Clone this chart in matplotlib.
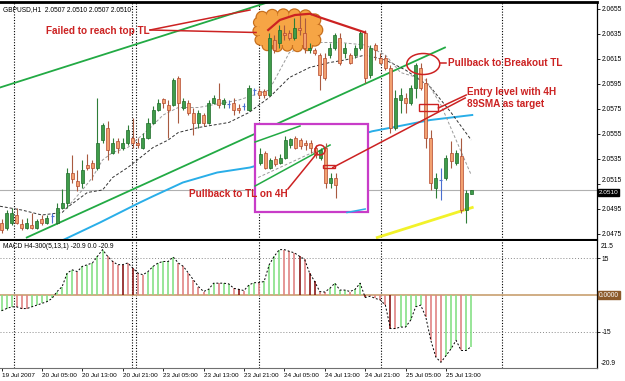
import matplotlib
matplotlib.use("Agg")
import matplotlib.pyplot as plt
from matplotlib.patches import Ellipse, Rectangle
import numpy as np

plt.rcParams['font.family'] = ['Liberation Sans', 'DejaVu Sans']

# ---------------- data ----------------
symbol_header = "GBPUSD,H1  2.0507 2.0510 2.0507 2.0510"
macd_header = "MACD H4-300(5,13,1) -20.9 0.0 -20.9"

opens = [2.0484, 2.0480, 2.0484, 2.0490, 2.0483, 2.0480, 2.0482, 2.0480, 2.0487, 2.0484,
         2.0489, 2.0484, 2.0496, 2.0500, 2.0524, 2.0517, 2.0516, 2.0530, 2.0532, 2.0528,
         2.0550, 2.0560, 2.0540, 2.0549, 2.0544, 2.0548, 2.0552, 2.0548, 2.0544, 2.0552,
         2.0564, 2.0574, 2.0583, 2.0578, 2.0578, 2.0600, 2.0576, 2.0580, 2.0572, 2.0564,
         2.0570, 2.0564, 2.0580, 2.0583, 2.0579, 2.0579, 2.0580, 2.0576, 2.0577, 2.0574,
         2.0590, 2.0589, 2.0589, 2.0586, 2.0630, 2.0628, 2.0636, 2.0636, 2.0632, 2.0640,
         2.0636, 2.0622, 2.0622, 2.0618, 2.0616, 2.0618, 2.0624, 2.0632, 2.0620, 2.0618,
         2.0618, 2.0624, 2.0636, 2.0602, 2.0626, 2.0616, 2.0616, 2.0608, 2.0560, 2.0582,
         2.0584, 2.0580, 2.0592, 2.0608, 2.0596, 2.0552, 2.0512, 2.0518, 2.0520, 2.0540,
         2.0532, 2.0537, 2.0494, 2.0507]
highs = [2.0487, 2.0494, 2.0496, 2.0496, 2.0487, 2.0488, 2.0492, 2.0487, 2.0490, 2.0490,
         2.0492, 2.0500, 2.0511, 2.0528, 2.0538, 2.0526, 2.0534, 2.0539, 2.0534, 2.0584,
         2.0564, 2.0565, 2.0552, 2.0552, 2.0552, 2.0562, 2.0568, 2.0552, 2.0556, 2.0568,
         2.0577, 2.0583, 2.0584, 2.0582, 2.0600, 2.0601, 2.0584, 2.0582, 2.0576, 2.0574,
         2.0572, 2.0582, 2.0586, 2.0596, 2.0584, 2.0582, 2.0584, 2.0579, 2.0580, 2.0594,
         2.0592, 2.0592, 2.0591, 2.0636, 2.0634, 2.0642, 2.0642, 2.0638, 2.0648, 2.0650,
         2.0648, 2.0628, 2.0624, 2.0620, 2.0620, 2.0628, 2.0636, 2.0636, 2.0628, 2.0620,
         2.0626, 2.0638, 2.0638, 2.0626, 2.0628, 2.0620, 2.0618, 2.0610, 2.0590, 2.0592,
         2.0588, 2.0594, 2.0612, 2.0612, 2.0600, 2.0558, 2.0524, 2.0528, 2.0538, 2.0549,
         2.0542, 2.0552, 2.0510, 2.0510]
lows = [2.0476, 2.0478, 2.0482, 2.0483, 2.0478, 2.0479, 2.0479, 2.0479, 2.0482, 2.0483,
        2.0484, 2.0483, 2.0495, 2.0496, 2.0516, 2.0509, 2.0512, 2.0526, 2.0518, 2.0526,
        2.0548, 2.0534, 2.0539, 2.0540, 2.0542, 2.0546, 2.0544, 2.0544, 2.0543, 2.0551,
        2.0563, 2.0573, 2.0576, 2.0552, 2.0577, 2.0564, 2.0574, 2.0570, 2.0554, 2.0560,
        2.0561, 2.0563, 2.0579, 2.0576, 2.0576, 2.0576, 2.0570, 2.0572, 2.0574, 2.0573,
        2.0586, 2.0584, 2.0584, 2.0585, 2.0620, 2.0624, 2.0630, 2.0630, 2.0630, 2.0634,
        2.0620, 2.0620, 2.0618, 2.0590, 2.0598, 2.0616, 2.0622, 2.0610, 2.0616, 2.0611,
        2.0616, 2.0622, 2.0596, 2.0600, 2.0614, 2.0611, 2.0606, 2.0556, 2.0558, 2.0572,
        2.0572, 2.0578, 2.0584, 2.0590, 2.0544, 2.0510, 2.0504, 2.0502, 2.0518, 2.0528,
        2.0530, 2.0492, 2.0484, 2.0507]
closes = [2.0478, 2.0492, 2.0492, 2.0484, 2.0480, 2.0484, 2.0480, 2.0485, 2.0484, 2.0488,
          2.0489, 2.0496, 2.0500, 2.0524, 2.0519, 2.0513, 2.0526, 2.0528, 2.0528, 2.0548,
          2.0562, 2.0542, 2.0548, 2.0544, 2.0548, 2.0558, 2.0548, 2.0546, 2.0552, 2.0564,
          2.0574, 2.0580, 2.0580, 2.0574, 2.0598, 2.0580, 2.0581, 2.0572, 2.0564, 2.0572,
          2.0564, 2.0580, 2.0584, 2.0578, 2.0582, 2.0579, 2.0574, 2.0574, 2.0577, 2.0592,
          2.0590, 2.0586, 2.0586, 2.0632, 2.0622, 2.0638, 2.0634, 2.0632, 2.0640, 2.0638,
          2.0624, 2.0624, 2.0620, 2.0602, 2.0600, 2.0624, 2.0634, 2.0612, 2.0624, 2.0612,
          2.0624, 2.0636, 2.0600, 2.0624, 2.0622, 2.0612, 2.0608, 2.0560, 2.0584, 2.0586,
          2.0580, 2.0592, 2.0610, 2.0592, 2.0552, 2.0516, 2.0520, 2.0518, 2.0536, 2.0533,
          2.0540, 2.0494, 2.0508, 2.0510]

# 4H chart pasted inside the magenta frame
inset_open = [2.0532, 2.0540, 2.0528, 2.0535, 2.0532, 2.0536, 2.0546, 2.0552,
              2.0550, 2.0548, 2.0548, 2.0544, 2.0536, 2.0544, 2.0516, 2.0520]
inset_high = [2.0544, 2.0541, 2.0536, 2.0537, 2.0539, 2.0553, 2.0552, 2.0553,
              2.0552, 2.0550, 2.0550, 2.0546, 2.0544, 2.0548, 2.0524, 2.0524]
inset_low = [2.0530, 2.0527, 2.0527, 2.0529, 2.0531, 2.0535, 2.0544, 2.0543,
             2.0543, 2.0542, 2.0540, 2.0536, 2.0534, 2.0512, 2.0512, 2.0504]
inset_close = [2.0539, 2.0528, 2.0534, 2.0531, 2.0536, 2.0550, 2.0551, 2.0544,
               2.0545, 2.0546, 2.0544, 2.0538, 2.0542, 2.0516, 2.0520, 2.0514]

macd_values = [-6.4, -5.5, -4.8, -4.8, -5.5, -5.5, -4.8, -4.1, -3.4, -2.7,
               -1.4, 1.4, 3.4, 8.9, 10.2, 9.5, 11.6, 12.3, 13.0, 15.7,
               18.4, 15.7, 13.6, 12.3, 12.3, 13.0, 10.9, 8.9, 8.2, 9.5,
               11.6, 13.0, 13.6, 13.6, 15.4, 13.0, 11.6, 8.9, 6.1, 3.4,
               1.4, 2.3, 4.8, 4.8, 4.8, 4.5, 2.7, 2.3, 1.8, 4.1,
               5.0, 5.0, 5.5, 12.3, 15.7, 18.4, 18.4, 17.7, 17.1, 15.7,
               14.5, 8.9, 5.5, 1.4, 1.2, 2.7, 4.8, 2.0, 2.0, 1.4,
               2.3, 4.8, -1.0, -0.5, -1.4, -2.0, -4.1, -13.6, -13.6, -13.0,
               -13.0, -10.2, -4.8, -4.1, -8.9, -18.4, -25.2, -27.3, -24.6, -21.8,
               -18.4, -22.5, -22.5, -20.9]
macd_colors = ("ggg" "rrr" "ggggggggg" "r" "ggggg" "rrrRrRrr" "gggggg" "rrrrrr"
               "gg" "r" "gg" "rRr" "gg" "r" "gggg" "rrrRrRR" "rr" "gggg" "r" "gg"
               "Rrrrr" "Rr" "ggggg" "rrrr" "ggg" "r" "gg")

time_labels = ["19 Jul 2007", "20 Jul 05:00", "20 Jul 13:00", "20 Jul 21:00",
               "23 Jul 05:00", "23 Jul 13:00", "23 Jul 21:00", "24 Jul 05:00",
               "24 Jul 13:00", "24 Jul 21:00", "25 Jul 05:00", "25 Jul 13:00"]
time_label_bars = [0, 8, 16, 24, 32, 40, 48, 56, 64, 72, 80, 88]
day_separators = [2.5, 25.8, 26.6, 50.9, 75.1, 99.1]
price_ticks = [2.0655, 2.0635, 2.0615, 2.0595, 2.0575, 2.0555, 2.0535, 2.0515, 2.0495, 2.0475]
last_price = 2.0510

slow_ma_bars = [-0.3, 4, 8, 12, 13, 17, 20, 22, 25, 30, 33, 35, 39, 42, 45, 49, 53, 57,
                61, 65, 68, 72, 76, 80, 85, 89, 93]
slow_ma_vals = [2.0497, 2.0494, 2.0490, 2.0492, 2.0496, 2.0508, 2.0510, 2.0520, 2.0528,
                2.0544, 2.0550, 2.0556, 2.0560, 2.0562, 2.0564, 2.0572, 2.0584, 2.0600,
                2.0608, 2.0612, 2.0614, 2.0618, 2.0614, 2.0606, 2.0592, 2.0572, 2.0550]
fast_ma_bars = [13, 16, 18, 20, 22, 25, 29, 32, 35, 39, 43, 47, 50, 53, 57, 62, 67, 72,
                76, 79, 84, 87, 90, 93]
fast_ma_vals = [2.0496, 2.0510, 2.0520, 2.0534, 2.0540, 2.0544, 2.0558, 2.0570, 2.0576,
                2.0576, 2.0579, 2.0582, 2.0586, 2.0590, 2.0620, 2.0628, 2.0628, 2.0626,
                2.0618, 2.0604, 2.0598, 2.0578, 2.0550, 2.0522]
sma89_bars = [12.2, 19.5, 27.4, 30.0, 35.9, 42.7, 49.2, 73.4, 77.3, 84.9, 93.2]
sma89_vals = [2.0470, 2.0484, 2.0500, 2.0505, 2.0516, 2.0524, 2.0528, 2.0557, 2.0560,
              2.0566, 2.0570]

top_tl_bars, top_tl_vals = [-0.3, 54.2], [2.0592, 2.0662]
breakout_tl_bars, breakout_tl_vals = [5.0, 87.8], [2.0472, 2.0624]
yellow_tl_bars, yellow_tl_vals = [74.4, 93.2], [2.0472, 2.0496]
red_top_bars = [52.8, 55.1, 58.1, 61.1, 63.1, 72.0]
red_top_vals = [2.0638, 2.0646, 2.0650, 2.0651, 2.0648, 2.0636]

# ---------------- styling ----------------
UP_FACE, UP_EDGE, UP_WICK = "#3f9c4a", "#1d6b28", "#2e7d38"
DN_FACE, DN_EDGE, DN_WICK = "#f2a070", "#b4482c", "#a85a40"
DOJI = "#4a6fd0"
RED = "#cc2222"
TL_GREEN = "#22aa44"
MAG = "#c83cc8"
CLOUD = "#f6a545"
PX_BAR = 1 / 5.05      # bars per pixel
PX_PRICE = 0.00008     # price per pixel

W, H = 625, 381
fig = plt.figure(figsize=(W / 100, H / 100), dpi=100)
ax = fig.add_axes([0, 1 - 240 / H, 597 / W, 238 / H])
axm = fig.add_axes([0, 1 - 368 / H, 597 / W, 127 / H], sharex=ax)

ax.set_xlim(-0.3, 117.9)
ax.set_ylim(2.0470, 2.06604)
axm.set_ylim(-29.6, 21.9)


def candles(a, xs, o, h, l, c, z=3, w=0.6):
    xs, o, h, l, c = map(np.asarray, (xs, o, h, l, c))
    up, dn, dj = c > o, c < o, c == o
    a.vlines(xs[up], l[up], h[up], color=UP_WICK, lw=0.8, zorder=z)
    a.vlines(xs[dn], l[dn], h[dn], color=DN_WICK, lw=0.8, zorder=z)
    a.vlines(xs[dj], l[dj], h[dj], color=DOJI, lw=0.8, zorder=z)
    a.bar(xs[up], (c - o)[up], bottom=o[up], width=w, color=UP_FACE,
          edgecolor=UP_EDGE, lw=0.5, zorder=z + 0.5)
    a.bar(xs[dn], (o - c)[dn], bottom=c[dn], width=w, color=DN_FACE,
          edgecolor=DN_EDGE, lw=0.5, zorder=z + 0.5)
    a.hlines(o[dj], xs[dj] - w / 2, xs[dj] + w / 2, color=DOJI, lw=0.8, zorder=z + 0.5)


def px_ellipse(b, p, rx, ry=None, **kw):
    ry = rx if ry is None else ry
    return Ellipse((b, p), 2 * rx * PX_BAR, 2 * ry * PX_PRICE, **kw)


bars = np.arange(len(opens))

# separators
for a in (ax, axm):
    for s in day_separators:
        a.axvline(s, color="black", lw=0.8, ls=(0, (1, 1.5)), zorder=1)

# bid line
ax.axhline(last_price, color="#b0b0b0", lw=0.8, zorder=1)

# trend lines and averages
ax.plot(top_tl_bars, top_tl_vals, color=TL_GREEN, lw=1.3, zorder=2)
ax.plot(breakout_tl_bars, breakout_tl_vals, color=TL_GREEN, lw=1.3, zorder=2)
ax.plot(sma89_bars, sma89_vals, color="#29aee8", lw=1.4, zorder=2)
ax.plot(yellow_tl_bars, yellow_tl_vals, color="#f2f22a", lw=2.0, zorder=2)
ax.plot(slow_ma_bars, slow_ma_vals, color="#333333", lw=0.7, ls=(0, (3, 2)), zorder=2)
ax.plot(fast_ma_bars, fast_ma_vals, color="#9a9a9a", lw=0.7, ls=(0, (3, 2)), zorder=2)

# orange cloud (scalloped outline)
cloud = [(51.6, 2.06480, 6), (53.6, 2.06496, 6), (55.8, 2.06500, 6), (58.0, 2.06500, 6),
         (60.2, 2.06492, 6), (62.0, 2.06460, 6), (62.4, 2.06380, 6), (62.0, 2.06300, 6),
         (60.6, 2.06256, 5), (58.6, 2.06248, 5), (56.6, 2.06252, 5), (54.6, 2.06248, 5),
         (52.6, 2.06256, 5), (51.2, 2.06300, 5), (50.8, 2.06372, 5), (50.9, 2.06440, 5)]
for b, p, r in cloud:
    ax.add_patch(px_ellipse(b, p, r, facecolor=CLOUD, edgecolor="#c8701e", lw=1.0, zorder=2.5))
for b, p, r in cloud:
    ax.add_patch(px_ellipse(b, p, r - 0.7, facecolor=CLOUD, edgecolor="none", zorder=2.6))
ax.add_patch(Rectangle((51.2, 2.0626), 11.0, 0.00232, facecolor=CLOUD,
                       edgecolor="none", zorder=2.6))

# main candles
candles(ax, bars, opens, highs, lows, closes, z=3)

# red top line over the cloud
ax.plot(red_top_bars, red_top_vals, color=RED, lw=1.6, zorder=5)

# magenta frame with the 4H chart
ax.add_patch(Rectangle((50.2, 2.04924), 22.4, 0.00704, facecolor="white",
                       edgecolor=MAG, lw=1.6, zorder=6))
ins_x = 51.2 + np.arange(len(inset_open))
candles(ax, ins_x, inset_open, inset_high, inset_low, inset_close, z=7)
ax.plot([50.2, 59.1], [2.05484, 2.05612], color=TL_GREEN, lw=1.1, zorder=6.5)
ax.plot([50.2, 65.05], [2.05132, 2.0546], color=TL_GREEN, lw=1.1, zorder=6.5)
ax.plot([50.8, 62.1], [2.0520, 2.0541], color="#9a9a9a", lw=0.7, ls=(0, (3, 2)), zorder=6.5)
ax.plot([68.4, 72.0], [2.0492, 2.04948], color="#29aee8", lw=1.1, zorder=6.5)
ax.add_patch(px_ellipse(63.07, 2.0542, 5, facecolor="none", edgecolor=RED, lw=1.1, zorder=8))
ax.add_patch(Rectangle((63.7, 2.05276), 2.3, 0.00024, facecolor="none", edgecolor=RED,
                       lw=1.0, zorder=8))

# annotations
tkw = dict(color=RED, fontsize=7.2, fontweight="bold", va="center", zorder=9)
ax.text(8.8, 2.0637, "Failed to reach top TL", ha="left", **tkw)
ax.plot([29.4, 49.2], [2.0638, 2.0654], color=RED, lw=1.1, zorder=8)
ax.plot([29.4, 50.4], [2.0638, 2.0636], color=RED, lw=1.1, zorder=8)

ax.add_patch(px_ellipse(83.5, 2.06108, 16.5, 10.5, facecolor="none", edgecolor=RED,
                        lw=1.1, zorder=8))
ax.plot([86.8, 88.0], [2.0612, 2.0612], color=RED, lw=1.1, zorder=8)
ax.text(88.4, 2.0612, "Pullback to Breakout TL", ha="left", **tkw)

ax.add_patch(Rectangle((82.7, 2.05732), 3.8, 0.00056, facecolor="none", edgecolor=RED,
                       lw=1.0, zorder=8))
ax.plot([86.5, 92.0], [2.05756, 2.0586], color=RED, lw=1.1, zorder=8)
ax.plot([65.6, 91.8], [2.0528, 2.05836], color=RED, lw=1.1, zorder=8)
ax.text(92.2, 2.05884, "Entry level with 4H", ha="left", **tkw)
ax.text(92.2, 2.05788, "89SMA as target", ha="left", **tkw)

ax.plot([62.5, 56.7], [2.05396, 2.05108], color=RED, lw=1.1, zorder=8)
ax.text(56.7, 2.05068, "Pullback to TL on 4H", ha="right", **tkw)

ax.text(0.005, 0.985, symbol_header, transform=ax.transAxes, fontsize=4.8,
        va="top", ha="left", zorder=10)

# ---------------- MACD panel ----------------
cmap = {"g": "#86e086", "G": "#2f9a3a", "r": "#e08484", "R": "#8b1818"}
mv = np.asarray(macd_values)
axm.vlines(bars, 0, mv, colors=[cmap[k] for k in macd_colors], lw=1.2, zorder=2)
axm.axhline(0, color="#c8a070", lw=1.2, zorder=1.5)
for lev in (15, -15):
    axm.axhline(lev, color="#8a8a8a", lw=0.7, ls=(0, (1, 2)), zorder=1)
axm.plot(bars, mv, color="black", lw=0.7, ls=(0, (2, 2)), zorder=3)
axm.text(0.005, 0.985, macd_header, transform=axm.transAxes, fontsize=4.8,
         va="top", ha="left")

# ---------------- axes cosmetics ----------------
for a in (ax, axm):
    a.set_facecolor("white")
    a.spines["left"].set_visible(False)
    a.spines["right"].set_color("black")
    a.spines["right"].set_linewidth(0.9)
    a.yaxis.tick_right()
    a.tick_params(axis="y", direction="out", length=2, width=0.6, labelsize=4.8, pad=1.5)
ax.spines["top"].set_linewidth(2)
ax.spines["bottom"].set_linewidth(1.5)
axm.spines["top"].set_visible(False)
axm.spines["bottom"].set_color("#707070")
axm.spines["bottom"].set_linewidth(0.8)

ax.set_yticks(price_ticks)
ax.set_yticklabels([f"{p:.4f}" for p in price_ticks])
ax.tick_params(axis="x", bottom=False, labelbottom=False)
for lbl, p in zip(ax.get_yticklabels(), price_ticks):
    if abs(p - last_price) < 0.0008:
        lbl.set_va("bottom")
ax.text(1.003, last_price, f"{last_price:.4f}", transform=ax.get_yaxis_transform(),
        fontsize=4.6, color="white", va="top", ha="left",
        bbox=dict(boxstyle="square,pad=0.08", fc="black", ec="black"), zorder=10,
        clip_on=False)

axm.set_yticks([15, -15])
axm.set_yticklabels(["15", "-15"])
axm.text(1.006, 0.985, "21.5", transform=axm.transAxes, fontsize=4.8, va="top", ha="left")
axm.text(1.006, 0.01, "-20.9", transform=axm.transAxes, fontsize=4.8, va="bottom", ha="left")
axm.text(1.003, 0, "0.0000", transform=axm.get_yaxis_transform(), fontsize=4.8,
         color="white", va="center", ha="left",
         bbox=dict(boxstyle="square,pad=0.12", fc="#8b5a2b", ec="#8b5a2b"), clip_on=False)

axm.set_xticks(time_label_bars)
axm.set_xticklabels(time_labels)
axm.tick_params(axis="x", direction="out", length=2, width=0.6, labelsize=4.6, pad=1.5)
for lbl in axm.get_xticklabels():
    lbl.set_ha("left")

fig.savefig("out.png", dpi=100, facecolor="white")
